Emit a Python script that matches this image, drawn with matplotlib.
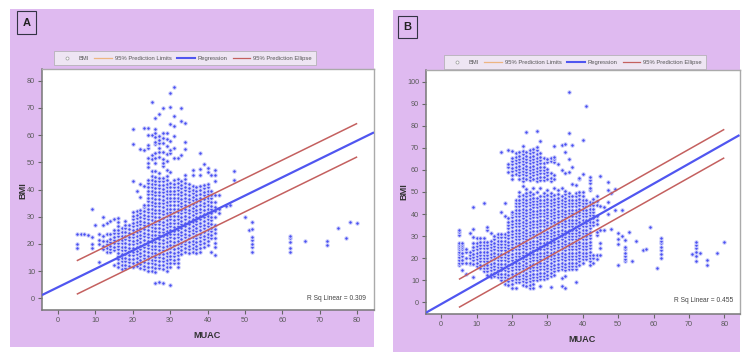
import matplotlib
matplotlib.use("Agg")
import matplotlib.pyplot as plt
from matplotlib.lines import Line2D
from matplotlib.patches import Rectangle
import numpy as np

plt.rcParams['font.family'] = ['Liberation Sans', 'DejaVu Sans']

W, H = 750, 358

# Panel A: MUAC column values and the BMI readings stacked in each column
muac_a = [5, 6, 7, 8, 9, 10, 11, 12, 13, 14, 15, 16, 17, 18, 19, 20, 21, 22, 23, 24, 25, 26, 27, 28, 29, 30,
          31, 32, 33, 34, 35, 36, 37, 38, 39, 40, 41, 42, 43, 45, 46, 47, 50, 51, 52, 62, 66, 72, 75, 77, 78, 80]
bmi_a = [
    [18.5, 20, 23.5],
    [23.6],
    [23.6],
    [23.4],
    [18.5, 20, 22.5, 32.8],
    [26.8],
    [13.2, 20, 21.6, 23.8],
    [18, 19.2, 21, 22.8, 27, 30],
    [17.2, 18.4, 19.8, 21.2, 23.6, 27.8],
    [17, 18.2, 19.4, 20.6, 21.8, 23.8, 28.4],
    [12.4, 17.6, 19, 20.2, 21.4, 22.6, 24, 25.2, 29],
    [11.6, 13, 14.4, 15.6, 16.8, 18, 19.2, 20.4, 21.6, 22.8, 24, 25.2, 26.4, 28, 29.6],
    [10.8, 12.2, 13.6, 15, 16.2, 17.6, 19, 20.2, 21.6, 23, 24.4, 26],
    [11, 12.4, 13.8, 15, 16.4, 17.8, 19, 20.4, 21.8, 23, 24.4, 25.8, 27, 28.4],
    [12, 13.4, 14.6, 16, 17.4, 18.6, 20, 21.4, 22.6, 24, 25.4, 26.8],
    [11.6, 13, 14.4, 15.8, 17, 18.4, 19.8, 21, 22.4, 23.8, 25, 26.4, 27.8, 29, 30.4, 31.8, 43, 56.8, 62.4],
    [12, 13.4, 14.8, 16.2, 17.4, 18.8, 20.2, 21.4, 22.8, 24.2, 25.4, 26.8, 28.2, 29.4, 30.8, 32.2, 39.6],
    [11.2, 12.6, 14, 15.4, 16.6, 18, 19.4, 20.6, 22, 23.4, 24.6, 26, 27.4, 28.6, 30, 31.4, 32.6, 37.2, 42.2, 55],
    [10.6, 12, 13.4, 14.8, 16, 17.4, 18.8, 20, 21.4, 22.8, 24, 25.4, 26.8, 28, 29.4, 30.8, 32, 33.4, 34.4, 41.2,
     54.6, 62.5],
    [10.2, 11.6, 13, 14.4, 15.6, 17, 18.4, 19.6, 21, 22.4, 23.6, 25, 26.4, 27.6, 29, 30.4, 31.6, 33, 34.4, 35.6,
     37, 38.4, 39.6, 41, 42.4, 43.6, 48.4, 49.9, 51.7, 55.2, 56.4, 60, 62.5],
    [10, 11.4, 12.8, 14.2, 15.4, 16.8, 18.2, 19.4, 20.8, 22.2, 23.4, 24.8, 26.2, 27.4, 28.8, 30.2, 31.4, 32.8,
     34.2, 35.4, 36.8, 38.2, 39.4, 40.8, 42.2, 43.4, 44.8, 46.8, 51.1, 52.7, 60, 72],
    [5.5, 9.8, 11.2, 12.6, 14, 15.2, 16.6, 18, 19.2, 20.6, 22, 23.2, 24.6, 26, 27.2, 28.6, 30, 31.2, 32.6, 34,
     35.2, 36.6, 38, 39.2, 40.6, 42, 43.2, 44.6, 46.8, 49.6, 51.5, 53.6, 56.8, 57.6, 59.2, 60.9, 62.1, 66.2],
    [6, 11, 12.4, 13.8, 15.2, 16.4, 17.8, 19.2, 20.4, 21.8, 23.2, 24.4, 25.8, 27.2, 28.4, 29.8, 31.2, 32.4, 33.8,
     35.2, 36.4, 37.8, 39.2, 40.4, 41.8, 43.2, 44.4, 46, 51.9, 53.9, 55.2, 57, 58.2, 59.5, 67.8],
    [5.7, 10.8, 12.2, 13.6, 15, 16.2, 17.6, 19, 20.2, 21.6, 23, 24.2, 25.6, 27, 28.2, 29.6, 31, 32.2, 33.6, 35,
     36.2, 37.6, 39, 40.2, 41.6, 43, 44.4, 48.7, 49.6, 51.1, 53.9, 57, 58.8, 60.7, 69.9],
    [10, 11.4, 12.8, 14.2, 15.4, 16.8, 18.2, 19.4, 20.8, 22.2, 23.4, 24.8, 26.2, 27.4, 28.8, 30.2, 31.4, 32.8,
     34.2, 35.4, 36.8, 38.2, 39.4, 40.8, 42.2, 43.6, 45, 47.2, 50.6, 53.1, 56, 58.5, 60.9],
    [5, 11.6, 13, 14.4, 15.6, 17, 18.4, 19.6, 21, 22.4, 23.6, 25, 26.4, 27.6, 29, 30.4, 31.6, 33, 34.4, 35.6, 37,
     38.4, 39.6, 41, 42.4, 46.6, 53.3, 54.6, 58, 64.1, 70.2, 75.4],
    [12.8, 14.2, 15.6, 16.8, 18.2, 19.6, 20.8, 22.2, 23.6, 24.8, 26.2, 27.6, 28.8, 30.2, 31.6, 32.8, 34.2, 35.6,
     36.8, 38.2, 39.6, 40.8, 42.2, 43.6, 51.5, 55.2, 59.5, 63.5, 67.2, 77.6],
    [11.6, 13, 14.4, 15.8, 17, 18.4, 19.8, 21, 22.4, 23.8, 25, 26.4, 27.8, 29, 30.4, 31.8, 33, 34.4, 35.8, 37,
     38.4, 39.8, 41, 42.4, 43.7, 51.7],
    [16.4, 17.8, 19.2, 20.4, 21.8, 23.2, 24.4, 25.8, 27.2, 28.4, 29.8, 31.2, 32.4, 33.8, 35.2, 36.4, 37.8, 39.2,
     40.4, 41.8, 43, 52.7, 65, 70.1],
    [17, 18.4, 19.8, 21, 22.4, 23.8, 25, 26.4, 27.8, 29, 30.4, 31.8, 33, 34.4, 35.8, 37, 38.4, 39.8, 41, 42.4,
     43.8, 45.4, 54.9, 57.3, 64.4],
    [16.6, 18, 19.4, 20.6, 22, 23.4, 24.6, 26, 27.4, 28.6, 30, 31.4, 32.6, 34, 35.4, 36.6, 38, 39.4, 40.6, 42],
    [17.2, 18.6, 20, 21.2, 22.6, 24, 25.2, 26.6, 28, 29.2, 30.6, 32, 33.2, 34.6, 36, 37.2, 38.6, 40, 41.2, 45.5, 47],
    [16.6, 18, 19.4, 20.6, 22, 23.4, 24.6, 26, 27.4, 28.6, 30, 31.4, 32.6, 34, 35.4, 36.6, 38, 39.4, 40.8],
    [17, 18.4, 19.8, 21, 22.4, 23.8, 25, 26.4, 27.8, 29, 30.4, 31.8, 33, 34.4, 35.8, 37, 38.4, 39.8, 41.2, 45.5,
     47.4, 53.3],
    [19, 20.4, 21.8, 23, 24.4, 25.8, 27, 28.4, 29.8, 31, 32.4, 33.8, 35, 36.4, 37.8, 39, 40.4, 41.8, 49.4],
    [19.6, 21, 22.4, 23.6, 25, 26.4, 27.6, 29, 30.4, 31.6, 33, 34.4, 35.6, 37, 38.4, 39.6, 41, 42.2, 46.6, 47.8],
    [17, 22, 23.4, 24.8, 26, 27.4, 28.8, 30, 31.4, 32.8, 34, 35.4, 36.8, 38, 39.4, 45.4],
    [16, 18.8, 20.5, 22.2, 24, 25.6, 27, 30, 32, 33.4, 35.5, 38, 43, 45.5, 47],
    [31.3, 33, 38],
    [34],
    [34.3],
    [43.5, 46.8],
    [29.8],
    [25],
    [17.2, 18.8, 20, 21.5, 22.7, 25.5, 28.2],
    [17, 18.4, 20.6, 22, 23],
    [21],
    [19.6, 21],
    [26],
    [22],
    [28],
    [27.8],
]

# Panel B: MUAC column values and the BMI readings stacked in each column
muac_b = [5, 6, 7, 8, 9, 10, 11, 12, 13, 14, 15, 16, 17, 18, 19, 20, 21, 22, 23, 24, 25, 26, 27, 28, 29, 30,
          31, 32, 33, 34, 35, 36, 37, 38, 39, 40, 41, 42, 43, 44, 45, 46, 47, 48, 49, 50, 51, 52, 53, 54, 55,
          57, 58, 59, 61, 62, 71, 72, 73, 75, 78, 80]
bmi_b = [
    [17, 18, 19, 20.5, 22, 23, 24, 25, 26, 27, 30.5, 32, 33],
    [14.7, 18, 19, 21, 22.5, 24, 25, 26, 27],
    [12.7, 18, 20, 23, 24],
    [17.5, 18, 20, 21.5, 23, 31.5],
    [11.5, 17.5, 19, 20.5, 22, 23.5, 25, 27, 29.5, 33.3, 43],
    [16.5, 18, 19.5, 21, 22.5, 24, 25.5, 27, 29],
    [15.5, 17, 18.5, 20, 21.5, 23, 24.5, 26, 27.5, 29],
    [14, 15.5, 17, 18.5, 20, 21.5, 23, 24.5, 26, 27.5, 29, 45],
    [12.5, 14, 15.5, 17, 18.5, 20, 21.5, 23, 24.5, 26, 27.5, 33, 34],
    [11.5, 13, 14.5, 16, 17.5, 19, 20.5, 22, 23.5, 25, 26.5, 28, 31.5],
    [12, 13.5, 15, 16.5, 18, 19.5, 21, 22.5, 24, 25.5, 27, 28.5, 30],
    [11.5, 13, 14.5, 16, 17.5, 19, 20.5, 22, 23.5, 25, 26.5, 28, 29.5, 31],
    [10, 11.5, 13, 14.5, 16, 17.5, 19, 20.5, 22, 23.5, 25, 26.5, 28, 29.5, 31, 40.8, 68],
    [8.5, 10, 11.5, 13, 14.5, 16, 17.5, 19, 20.5, 22, 23.5, 25, 26.5, 28, 29.5, 31, 39, 44.9],
    [8, 9.5, 11, 12.5, 14, 15.5, 17, 18.5, 20, 21.5, 23, 24.5, 26, 27.5, 29, 30.5, 32, 33.5, 35, 36.5, 38, 59,
     61.5, 62.5, 69],
    [6.7, 8.5, 10, 11.5, 13, 14.5, 16, 17.5, 19, 20.5, 22, 23.5, 25, 26.5, 28, 29.5, 31, 32.5, 34, 35.5, 37, 38.5,
     40, 41, 56, 57.5, 59.5, 61, 62.5, 64, 65.5, 68.6],
    [6.7, 9, 10.5, 12, 13.5, 15, 16.5, 18, 19.5, 21, 22.5, 24, 25.5, 27, 28.5, 30, 31.5, 33, 34.5, 36, 37.5, 39,
     40.5, 42, 43.5, 45, 46.5, 58, 60, 61.5, 63, 64.5, 66, 67.5],
    [9, 10.5, 12, 13.5, 15, 16.5, 18, 19.5, 21, 22.5, 24, 25.5, 27, 28.5, 30, 31.5, 33, 34.5, 36, 37.5, 39, 40.5,
     42, 43.5, 45, 46.5, 48, 50, 56, 57.5, 59, 60.5, 62, 63.5, 65, 66.5, 68],
    [8, 9.5, 11, 12.5, 14, 15.5, 17, 18.5, 20, 21.5, 23, 24.5, 26, 27.5, 29, 30.5, 32, 33.5, 35, 36.5, 38, 39.5,
     41, 42.5, 44, 45.5, 47, 48.5, 52.5, 55, 56.5, 58, 59.5, 61, 62.5, 64, 65.5, 67, 68.5, 70.8],
    [7.5, 9, 10.5, 12, 13.5, 15, 16.5, 18, 19.5, 21, 22.5, 24, 25.5, 27, 28.5, 30, 31.5, 33, 34.5, 36, 37.5, 39,
     40.5, 42, 43.5, 45, 46.5, 48, 49.5, 51.5, 56, 57.5, 59, 60.5, 62, 63.5, 65, 66.5, 68, 77],
    [6.4, 8, 9.5, 11, 12.5, 14, 15.5, 17, 18.5, 20, 21.5, 23, 24.5, 26, 27.5, 29, 30.5, 32, 33.5, 35, 36.5, 38,
     39.5, 41, 42.5, 44, 45.5, 47, 48.5, 50, 55.5, 57, 58.5, 60, 61.5, 63, 64.5, 66, 67.5, 69],
    [6.4, 8.5, 10, 11.5, 13, 14.5, 16, 17.5, 19, 20.5, 22, 23.5, 25, 26.5, 28, 29.5, 31, 32.5, 34, 35.5, 37, 38.5,
     40, 41.5, 43, 44.5, 46, 47.5, 49, 52, 56, 57.5, 59, 60.5, 62, 63.5, 65, 66.5, 68, 69.5],
    [10, 11.5, 13, 14.5, 16, 17.5, 19, 20.5, 22, 23.5, 25, 26.5, 28, 29.5, 31, 32.5, 34, 35.5, 37, 38.5, 40, 41.5,
     43, 44.5, 46, 47.5, 50, 55, 56.5, 58, 59.5, 61, 62.5, 64, 65.5, 67, 69, 70.5, 77.5],
    [7.4, 10.5, 12, 13.5, 15, 16.5, 18, 19.5, 21, 22.5, 24, 25.5, 27, 28.5, 30, 31.5, 33, 34.5, 36, 37.5, 39, 40.5,
     42, 43.5, 45, 46.5, 48, 52, 55.5, 57, 58.5, 60, 61.5, 63, 64.5, 66, 67.5, 73.3],
    [10.5, 12, 13.5, 15, 16.5, 18, 19.5, 21, 22.5, 24, 25.5, 27, 28.5, 30, 31.5, 33, 34.5, 36, 37.5, 39, 40.5, 42,
     43.5, 45, 46.5, 48, 49.5, 55.5, 57, 58.5, 60, 61.5, 63, 65.5],
    [11, 12.5, 14, 15.5, 17, 18.5, 20, 21.5, 23, 24.5, 26, 27.5, 29, 30.5, 32, 33.5, 35, 36.5, 38, 39.5, 41, 42.5,
     44, 45.5, 47, 48.5, 51, 56, 57.5, 59, 60.5, 63.5, 65],
    [7, 12, 13.5, 15, 16.5, 18, 19.5, 21, 22.5, 24, 25.5, 27, 28.5, 30, 31.5, 33, 34.5, 36, 37.5, 39, 40.5, 42,
     43.5, 45, 46.5, 48, 49.5, 55, 56.5, 58.5, 64, 65.5],
    [12.5, 14, 15.5, 17, 18.5, 20, 21.5, 23, 24.5, 26, 27.5, 29, 30.5, 32, 33.5, 35, 36.5, 38, 39.5, 41, 42.5, 44,
     45.5, 47, 48.5, 52, 56, 57.5, 63.5, 65, 66, 70.8],
    [14.5, 16, 17.5, 19, 20.5, 22, 23.5, 25, 26.5, 28, 29.5, 31, 32.5, 34, 35.5, 37, 38.5, 40, 41.5, 43, 44.5, 46,
     47.5, 49, 51, 62.5],
    [7.3, 11, 15, 16.5, 18, 19.5, 21, 22.5, 24, 25.5, 27, 28.5, 30, 31.5, 33, 34.5, 36, 37.5, 39, 40.5, 42, 43.5,
     45, 46.5, 48, 52, 60, 71.3],
    [6.7, 12, 14.5, 16, 17.5, 19, 20.5, 22, 23.5, 25, 26.5, 28, 29.5, 31, 32.5, 34, 35.5, 37, 38.5, 40, 41.5, 43,
     44.5, 46, 47.5, 49, 50.5, 58.8, 68, 71.7],
    [15, 16.5, 18, 19.5, 21, 22.5, 24, 25.5, 27, 28.5, 30, 31.5, 33, 34.5, 36, 37.5, 39, 40.5, 42, 43.5, 45, 46.5,
     48, 49.5, 59.2, 64.8, 76.6, 95.5],
    [15, 16.5, 18, 19.5, 21, 22.5, 24, 25.5, 27, 28.5, 30, 31.5, 33, 34.5, 36, 37.5, 39, 40.5, 42, 43.5, 45, 46.5,
     48, 53.5, 61.5, 71.3],
    [9, 15, 16.5, 18, 19.5, 21, 22.5, 24, 25.5, 27, 28.5, 30, 31.5, 33, 34.5, 36, 37.5, 39, 40.5, 42, 43.5, 45,
     46.5, 48, 49.5, 53],
    [17, 18.5, 20, 21.5, 23, 24.5, 26, 27.5, 29, 30.5, 32, 33.5, 35, 36.5, 38, 39.5, 41, 42.5, 44, 45.5, 47, 48.5,
     50, 55.8, 56.2],
    [18, 19.5, 21, 22.5, 24, 25.5, 27, 28.5, 30, 31.5, 33, 34.5, 36, 37.5, 39, 40.5, 42, 43.5, 45, 46.5, 48, 50,
     58, 73.4],
    [19.5, 21, 22.5, 24, 25.5, 27, 28.5, 30, 31.5, 33, 34.5, 36, 37.5, 39, 40.5, 42, 43.5, 45, 46.5, 89],
    [17, 18.5, 20, 21.5, 23, 24.5, 26, 27.5, 29, 30.5, 32, 33.5, 35, 36.5, 38, 39.5, 41, 42.5, 44, 45.5, 51, 52,
     54, 55.5, 56.6],
    [18, 20, 21.5, 35, 36.5, 38, 39.5, 41, 42.5, 44, 45.5, 47],
    [19.5, 21.5, 30.5, 32, 35.5, 37.5, 39, 44, 46, 48],
    [21.5, 24.5, 26.8, 33, 43.7, 57.3],
    [33, 43.4],
    [40, 45.6, 51, 54.7],
    [33.4, 49.4],
    [42, 51.4],
    [17, 26.5, 28.7, 31.3],
    [30, 42],
    [18.5, 19.5, 21, 22.5, 24, 25.2, 28.3],
    [32],
    [18.5],
    [28],
    [23.7],
    [24.3],
    [34],
    [15.4],
    [20, 22, 23.5, 25, 27, 28, 29],
    [21.8],
    [18.5, 21, 23, 24.5, 26, 27.5],
    [22.5],
    [17, 19.2],
    [22.2],
    [27.5],
]

x_ticks = [0, 10, 20, 30, 40, 50, 60, 70, 80]
y_ticks_a = [0, 10, 20, 30, 40, 50, 60, 70, 80]
y_ticks_b = [0, 10, 20, 30, 40, 50, 60, 70, 80, 90, 100]

# Fitted lines, as (MUAC, BMI) end values
reg_x_a, reg_y_a = [-4.3, 84.5], [1.2, 61]
upper_y_a, lower_y_a = [13.8, 64.3], [1.5, 52]
reg_x_b, reg_y_b = [-4.3, 84.3], [-4.7, 75.8]
upper_y_b, lower_y_b = [10.4, 78.4], [-2.3, 65.5]
limit_x = [5, 80]

legend_labels = ['BMI', '95% Prediction Limits', 'Regression', '95% Prediction Ellipse']

PURPLE = '#DFBAF0'
BLUE = '#4B50F2'
EDGE = '#D4D7FC'
LINE_BLUE = '#5056F0'
RED = '#C4605F'
TAN = '#EDB582'
GREY = '#5A5A5A'

fig = plt.figure(figsize=(W / 100, H / 100), dpi=100, facecolor='white')


def box(l, t, r, b):
    return (l / W, 1 - b / H, (r - l) / W, (b - t) / H)


def panel(bg, plot, label_box, letter, xlim, ylim, yticks, muac, bmi, reg_x, reg_y, up, lo,
          rsq, rsq_xy, legend_center, xlab_xy, ylab_xy):
    x0, y0, w0, h0 = box(*bg)
    fig.add_artist(Rectangle((x0, y0), w0, h0, transform=fig.transFigure, facecolor=PURPLE, edgecolor='none', zorder=-5))

    ax = fig.add_axes(box(*plot), facecolor='white')
    xs = np.concatenate([[m] * len(v) for m, v in zip(muac, bmi)])
    ys = np.concatenate(bmi)
    ax.scatter(xs, ys, s=6.5, color=BLUE, edgecolors=EDGE, linewidths=0.7, zorder=2)
    ax.plot(limit_x, up, color=RED, lw=1.1, zorder=3, solid_capstyle='butt')
    ax.plot(limit_x, lo, color=RED, lw=1.1, zorder=3, solid_capstyle='butt')
    ax.plot(reg_x, reg_y, color=LINE_BLUE, lw=1.6, zorder=3, solid_capstyle='butt')
    ax.set_xlim(*xlim)
    ax.set_ylim(*ylim)
    ax.set_xticks(x_ticks)
    ax.set_yticks(yticks)
    ax.tick_params(length=3, width=0.8, color='#666666', labelcolor=GREY, labelsize=5.2, pad=2)
    for side, col, lw in [('left', '#777777', 1.1), ('bottom', '#777777', 1.1),
                          ('top', '#AAAAAA', 1.0), ('right', '#AAAAAA', 1.0)]:
        ax.spines[side].set_color(col)
        ax.spines[side].set_linewidth(lw)

    fig.text(xlab_xy[0] / W, 1 - xlab_xy[1] / H, 'MUAC', fontsize=6.6, fontweight='bold', color='#333333',
             ha='center', va='center')
    fig.text(ylab_xy[0] / W, 1 - ylab_xy[1] / H, 'BMI', fontsize=6.6, fontweight='bold', color='#333333',
             rotation=90, ha='center', va='center')
    fig.text(rsq_xy[0] / W, 1 - rsq_xy[1] / H, rsq, fontsize=4.8, color='#444444', ha='right', va='center')

    # Panel letter in its outlined box
    lx, ly, lw_, lh = box(*label_box)
    fig.add_artist(Rectangle((lx, ly), lw_, lh, transform=fig.transFigure, facecolor=PURPLE, edgecolor='#333344', lw=0.8))
    fig.text(lx + lw_ / 2, ly + lh / 2, letter, fontsize=8, fontweight='bold', color='#222222', ha='center', va='center')

    handles = [
        Line2D([], [], ls='none', marker='o', ms=2.2, mfc='white', mec='#999999', mew=0.5),
        Line2D([], [], color=TAN, lw=0.9),
        Line2D([], [], color=LINE_BLUE, lw=1.5),
        Line2D([], [], color=RED, lw=0.9),
    ]
    leg = fig.legend(handles, legend_labels, ncol=4, loc='center',
                     bbox_to_anchor=(legend_center[0] / W, 1 - legend_center[1] / H),
                     prop={'size': 4.2}, labelcolor='#555555',
                     frameon=True, fancybox=False, facecolor='#F2F0F5', edgecolor='#AAAAAA',
                     handlelength=3.0, handletextpad=0.5, columnspacing=0.9, borderpad=0.75,
                     borderaxespad=0)
    leg.get_frame().set_linewidth(0.6)
    return ax


panel((10, 9, 374, 347), (42, 69, 374, 310), (17, 11, 36, 34), 'A',
      (-4.3, 84.5), (-4.3, 84.3), y_ticks_a, muac_a, bmi_a, reg_x_a, reg_y_a, upper_y_a, lower_y_a,
      'R Sq Linear = 0.309', (366, 299), (185, 58), (207.5, 336), (23, 191))

panel((393, 10, 740, 352), (426, 70, 739.5, 314), (398, 16, 417, 38), 'B',
      (-4.3, 84.3), (-5.3, 105.3), y_ticks_b, muac_b, bmi_b, reg_x_b, reg_y_b, upper_y_b, lower_y_b,
      'R Sq Linear = 0.455', (733, 301), (575, 62), (582, 340), (404, 192))

fig.savefig('out.png', dpi=100, facecolor='white')
